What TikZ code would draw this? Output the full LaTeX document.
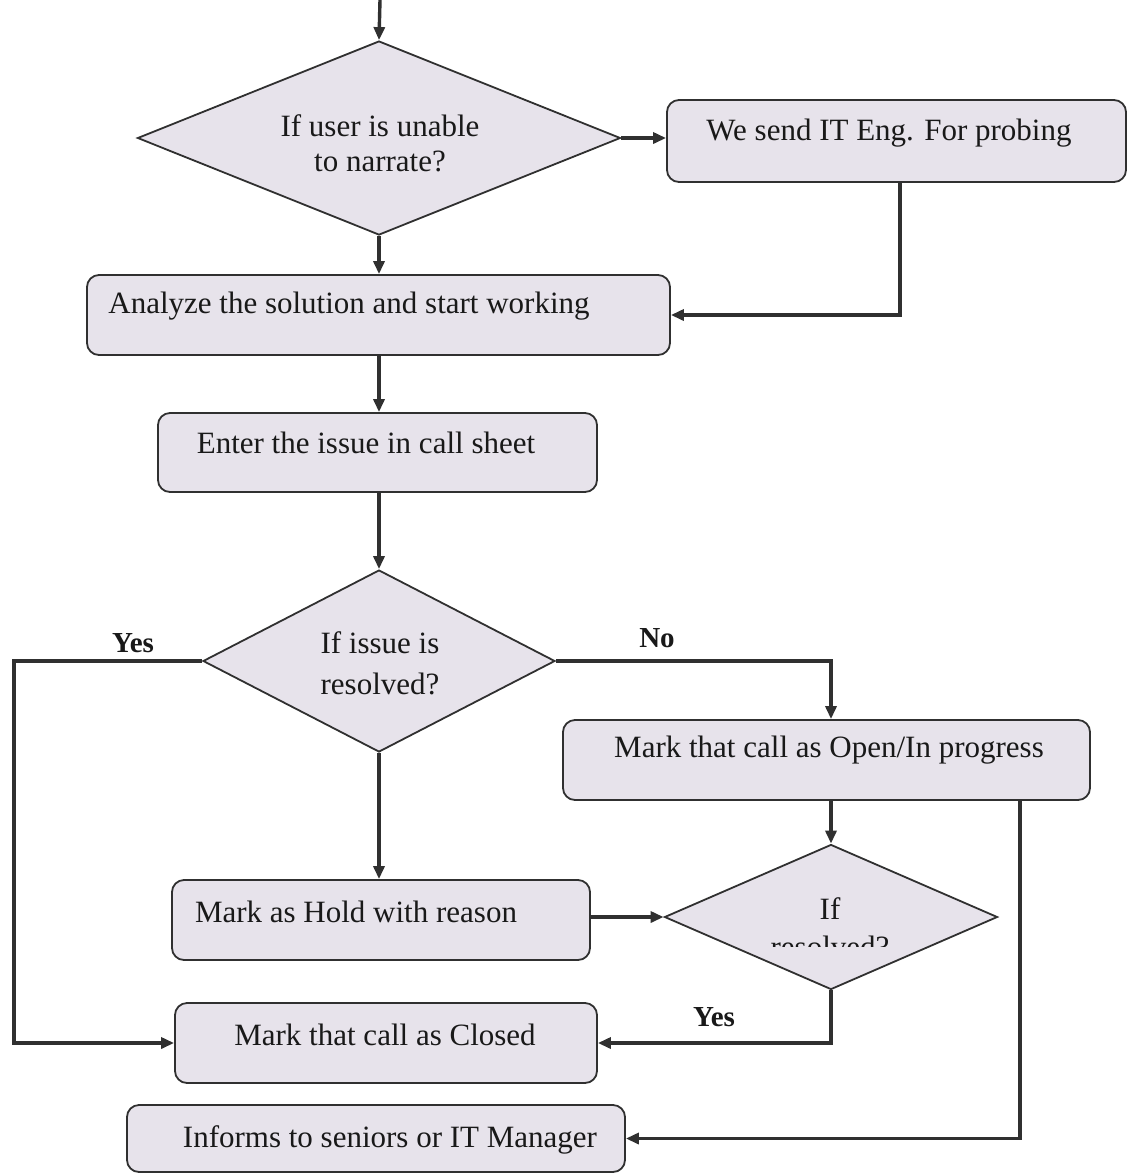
\documentclass[tikz,border=0pt]{standalone}
\usepackage{fontspec}
\setmainfont{Liberation Serif}
\usetikzlibrary{shapes.geometric,arrows.meta}
\definecolor{boxfill}{HTML}{E7E3EB}
\definecolor{ink}{HTML}{303030}
\begin{document}
\begin{tikzpicture}[x=0.5pt,y=-0.5pt,
  box/.style={draw=ink,line width=0.9pt,fill=boxfill,rounded corners=6pt,inner sep=0pt,rectangle},
  dia/.style={draw=ink,line width=0.9pt,fill=boxfill,diamond,inner sep=0pt},
  txt/.style={text=black!90,font=\fontsize{15.5pt}{17.5pt}\selectfont,inner sep=0pt,align=center},
  lbl/.style={text=black!90,font=\fontsize{14.5pt}{16pt}\selectfont\bfseries,inner sep=0pt},
  arr/.style={draw=ink,line width=1.7pt,-{Triangle[length=6.5pt,width=5.5pt]}},
  ln/.style={draw=ink,line width=1.7pt}]
\useasboundingbox (0,0) rectangle (1128,1175);
% shapes
\node[dia,minimum width=241.5pt,minimum height=97pt] (d1) at (379,138) {};
\node[box,minimum width=229.5pt,minimum height=41pt] (b1) at (896.5,141) {};
\node[box,minimum width=291.5pt,minimum height=40pt] (b2) at (378.5,315) {};
\node[box,minimum width=219.5pt,minimum height=39.5pt] (b3) at (377.5,452.5) {};
\node[dia,minimum width=176pt,minimum height=91pt] (d2) at (379,661) {};
\node[box,minimum width=263.5pt,minimum height=40pt] (b4) at (826.5,760) {};
\node[box,minimum width=209pt,minimum height=40pt] (b5) at (381,920) {};
\node[dia,minimum width=166.5pt,minimum height=72.5pt] (d3) at (831,917) {};
\node[box,minimum width=211pt,minimum height=40pt] (b6) at (386,1043) {};
\node[box,minimum width=249pt,minimum height=33.5pt] (b7) at (376,1138.5) {};
% texts
\node[txt] (td1) at (380,143) {If user is unable\\to narrate?};
\node[txt] (t1) at (889,133) {We send IT Eng. For probing};
\node[txt] (t2) at (349,306) {Analyze the solution and start working};
\node[txt] (t3) at (366,443) {Enter the issue in call sheet};
\node[txt,font=\fontsize{15.5pt}{20.5pt}\selectfont] (td2) at (380,663) {If issue is\\resolved?};
\node[txt] (t4) at (829,750) {Mark that call as Open/In progress};
\node[txt] (t5) at (356,912) {Mark as Hold with reason};
\begin{scope}
\clip (700,880) rectangle (960,946);
\node[txt,font=\fontsize{15.5pt}{19pt}\selectfont] (td3) at (830,928) {If\\resolved?};
\end{scope}
\node[txt] (t6) at (385,1035) {Mark that call as Closed};
\node[txt] (t7) at (390,1140) {Informs to seniors or IT Manager};
\node[lbl] (yes1) at (133,643) {Yes};
\node[lbl] (no1) at (657,638) {No};
\node[lbl] (yes2) at (714,1017) {Yes};
% connectors
\coordinate (top) at (380,0);
\coordinate (yl) at (14,662);
\coordinate (rx) at (1020,0);
\coordinate (bx) at (900,0);
\draw[arr] (top) -- (d1.north);
\draw[arr] (d1.east) -- (d1.east -| b1.west);
\draw[arr] (b1.south -| bx) |- (b2.east);
\draw[arr] (d1.south) -- (b2.north -| d1.south);
\draw[arr] (b2.south -| d1.south) -- (b3.north -| d1.south);
\draw[arr] (b3.south -| d2.north) -- (d2.north);
\draw[arr] (d2.west) -- (d2.west -| yl) |- (b6.west);
\draw[arr] (d2.east) -| (b4.north -| d3.north);
\draw[arr] (d2.south) -- (b5.north -| d2.south);
\draw[arr] (b5.east |- d3.west) -- (d3.west);
\draw[arr] (b4.south -| d3.north) -- (d3.north);
\draw[arr] (d3.south) |- (b6.east);
\draw[arr] (b4.south -| rx) |- (b7.east);
\end{tikzpicture}
\end{document}
